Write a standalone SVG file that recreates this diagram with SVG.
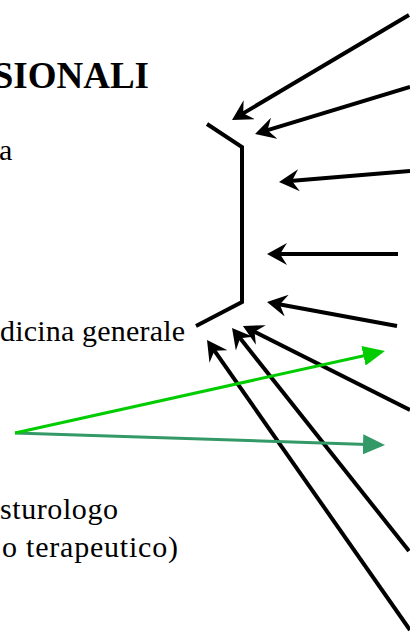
<svg xmlns="http://www.w3.org/2000/svg" width="410" height="634" viewBox="0 0 410 634">
<style>
.t{font-family:"Liberation Serif","Times New Roman",serif;font-size:30px;fill:#000}
.h{font-family:"Liberation Serif","Times New Roman",serif;font-size:37px;font-weight:bold;fill:#000}
.k{fill:none;stroke:#000;stroke-width:4}
.g1{fill:none;stroke:#00cc00;stroke-width:3}
.g2{fill:none;stroke:#339966;stroke-width:3}
</style>
<defs>
<marker id="ah" markerUnits="userSpaceOnUse" viewBox="0 0 20 22" markerWidth="20" markerHeight="22" refX="12" refY="11" orient="auto">
<path d="M20,11 L0,0 L7,11 L0,22 Z" fill="#000"/>
</marker>
<marker id="gh1" markerUnits="userSpaceOnUse" viewBox="0 0 22 20" markerWidth="22" markerHeight="20" refX="12" refY="10" orient="auto">
<path d="M22,10 L0,0 L0,20 Z" fill="#00cc00"/>
</marker>
<marker id="gh2" markerUnits="userSpaceOnUse" viewBox="0 0 22 20" markerWidth="22" markerHeight="20" refX="12" refY="10" orient="auto">
<path d="M22,10 L0,0 L0,20 Z" fill="#339966"/>
</marker>
</defs>
<rect width="410" height="634" fill="#fff"/>
<g id="title"><text class="h" x="149" y="88" text-anchor="end">SIONALI</text></g>
<g id="label-a"><text class="t" x="-1" y="160">a</text></g>
<g id="label-medicina"><text class="t" x="0" y="341" textLength="185" lengthAdjust="spacing">dicina generale</text></g>
<g id="label-sturologo"><text class="t" x="0" y="519" textLength="118" lengthAdjust="spacing">sturologo</text></g>
<g id="label-terapeutico"><text class="t" x="2" y="557" textLength="176" lengthAdjust="spacing">o terapeutico)</text></g>
<g id="bracket"><polyline class="k" points="207,124 242,147 242,302 196,326" stroke-linejoin="miter"/></g>
<g id="connectors">
<line class="k" x1="409" y1="15" x2="238.9" y2="115.9" marker-end="url(#ah)"/>
<line class="k" x1="410" y1="87" x2="262.7" y2="131.7" marker-end="url(#ah)"/>
<line class="k" x1="410" y1="171" x2="287" y2="181.3" marker-end="url(#ah)"/>
<line class="k" x1="398" y1="254" x2="275" y2="254" marker-end="url(#ah)"/>
<line class="k" x1="397" y1="326" x2="274.9" y2="303.5" marker-end="url(#ah)"/>
<line class="k" x1="410" y1="410" x2="250.1" y2="329.6" marker-end="url(#ah)"/>
<line class="k" x1="409" y1="551" x2="237" y2="334.3" marker-end="url(#ah)"/>
<line class="k" x1="410" y1="630" x2="211.6" y2="346.6" marker-end="url(#ah)"/>
<line class="g2" x1="15" y1="433" x2="375" y2="444.7" marker-end="url(#gh2)"/>
<line class="g1" x1="15" y1="433" x2="375.2" y2="353.2" marker-end="url(#gh1)"/>
</g>
</svg>
